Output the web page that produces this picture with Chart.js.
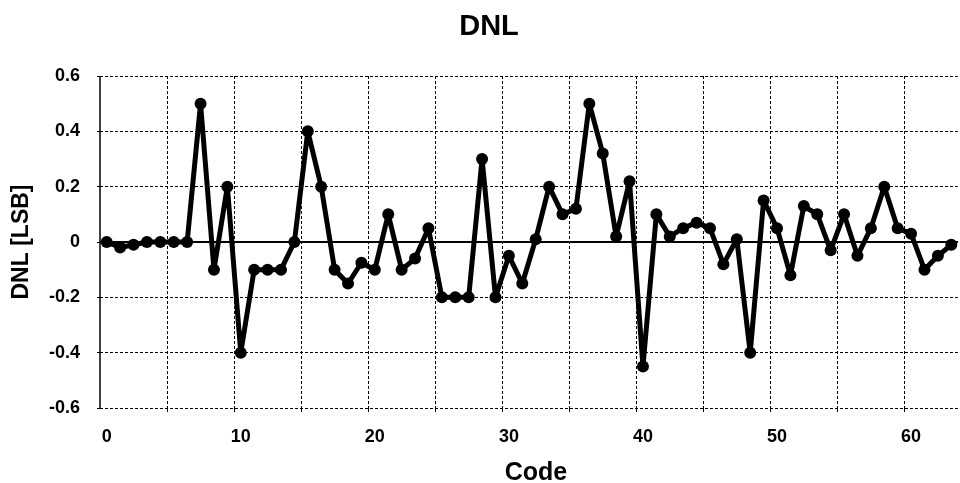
<!DOCTYPE html>
<html>
<head>
<meta charset="utf-8">
<script src="https://cdn.jsdelivr.net/npm/chart.js@4.4.1/dist/chart.umd.min.js"></script>
<style>
  html, body { margin: 0; padding: 0; background: #fff; }
  #wrap { width: 960px; height: 483px; }
</style>
</head>
<body>
<div id="wrap"><canvas id="c" width="960" height="483"></canvas></div>
<script>
const codes = [0,1,2,3,4,5,6,7,8,9,10,11,12,13,14,15,16,17,18,19,20,21,22,23,24,25,26,27,28,29,30,31,
  32,33,34,35,36,37,38,39,40,41,42,43,44,45,46,47,48,49,50,51,52,53,54,55,56,57,58,59,60,61,62,63];
const dnl = [0,-0.02,-0.01,0,0,0,0,0.5,-0.1,0.2,-0.4,-0.1,-0.1,-0.1,0,0.4,
  0.2,-0.1,-0.15,-0.075,-0.1,0.1,-0.1,-0.06,0.05,-0.2,-0.2,-0.2,0.3,-0.2,-0.05,-0.15,
  0.01,0.2,0.1,0.12,0.5,0.32,0.02,0.22,-0.45,0.1,0.02,0.05,0.07,0.05,-0.08,0.01,
  -0.4,0.15,0.05,-0.12,0.13,0.1,-0.03,0.1,-0.05,0.05,0.2,0.05,0.03,-0.1,-0.05,-0.01];
const xTickLabels = [0,10,20,30,40,50,60];
const xGridLines = [4.5,9.5,14.5,19.5,24.5,29.5,34.5,39.5,44.5,49.5,54.5,59.5];
const yTicks = [-0.6,-0.4,-0.2,0,0.2,0.4,0.6];
const chartTitle = 'DNL';
const xTitle = 'Code';
const yTitle = 'DNL [LSB]';

const points = codes.map((c, i) => ({ x: c, y: dnl[i] }));
const isGrid = v => xGridLines.indexOf(v) !== -1;

const axisLines = {
  id: 'axisLines',
  beforeDatasetsDraw(chart) {
    const { ctx, chartArea, scales } = chart;
    const y0 = scales.y.getPixelForValue(0);
    ctx.save();
    ctx.strokeStyle = '#000';
    ctx.setLineDash([]);
    ctx.lineWidth = 2;
    ctx.beginPath();
    ctx.moveTo(chartArea.left, y0);
    ctx.lineTo(chartArea.right, y0);
    ctx.stroke();
    ctx.lineWidth = 1.5;
    ctx.beginPath();
    ctx.moveTo(chartArea.left, chartArea.top);
    ctx.lineTo(chartArea.left, chartArea.bottom);
    ctx.stroke();
    ctx.restore();
  }
};

const titles = {
  id: 'titles',
  afterDraw(chart) {
    const { ctx } = chart;
    ctx.save();
    ctx.fillStyle = '#000';
    ctx.textAlign = 'center';
    ctx.textBaseline = 'middle';
    ctx.font = 'bold 29px "Liberation Sans", Arial, sans-serif';
    ctx.fillText(chartTitle, 489, 27);
    ctx.font = 'bold 25px "Liberation Sans", Arial, sans-serif';
    ctx.fillText(xTitle, 536, 473);
    ctx.translate(22, 242);
    ctx.rotate(-Math.PI / 2);
    ctx.font = 'bold 23px "Liberation Sans", Arial, sans-serif';
    ctx.fillText(yTitle, 0, 0);
    ctx.restore();
  }
};

new Chart(document.getElementById('c'), {
  type: 'line',
  data: {
    datasets: [{
      data: points,
      borderColor: '#000',
      backgroundColor: '#000',
      borderWidth: 5,
      borderJoinStyle: 'round',
      borderCapStyle: 'round',
      pointRadius: 6,
      pointBackgroundColor: '#000',
      pointBorderColor: '#000',
      pointBorderWidth: 0,
      tension: 0,
      clip: 8
    }]
  },
  options: {
    responsive: false,
    animation: false,
    devicePixelRatio: 1,
    layout: { autoPadding: false, padding: { left: 0, right: 2, top: 76, bottom: 0 } },
    plugins: {
      legend: { display: false },
      tooltip: { enabled: false },
      title: { display: false }
    },
    scales: {
      x: {
        type: 'linear',
        min: -0.5,
        max: 63.5,
        afterFit(scale) { scale.height = 75; scale.paddingLeft = 0; scale.paddingRight = 0; },
        afterBuildTicks(scale) {
          const vals = xTickLabels.concat(xGridLines).sort((a, b) => a - b);
          scale.ticks = vals.map(v => ({ value: v }));
        },
        border: { display: false, dash: [3, 2] },
        grid: {
          color: ctx => (ctx.tick && isGrid(ctx.tick.value)) ? '#000' : 'rgba(0,0,0,0)',
          tickColor: ctx => (ctx.tick && isGrid(ctx.tick.value)) ? '#000' : 'rgba(0,0,0,0)',
          lineWidth: 1,
          tickLength: 4,
          drawTicks: true
        },
        ticks: {
          autoSkip: false,
          maxRotation: 0,
          color: '#000',
          padding: 14,
          font: { family: 'Liberation Sans', size: 18, weight: 'bold' },
          callback: v => (xTickLabels.indexOf(v) !== -1 ? String(v) : '')
        },
        title: { display: false }
      },
      y: {
        min: -0.6,
        max: 0.6,
        afterFit(scale) { scale.width = 100; },
        afterBuildTicks(scale) {
          scale.ticks = yTicks.map(v => ({ value: v }));
        },
        border: { display: false, dash: [3, 2] },
        grid: {
          color: '#000',
          tickColor: '#000',
          lineWidth: 1,
          tickLength: 3,
          drawTicks: true
        },
        ticks: {
          color: '#000',
          padding: 17,
          font: { family: 'Liberation Sans', size: 18, weight: 'bold' },
          callback: v => String(Math.round(v * 10) / 10)
        },
        title: { display: false }
      }
    }
  },
  plugins: [axisLines, titles]
});
</script>
</body>
</html>
